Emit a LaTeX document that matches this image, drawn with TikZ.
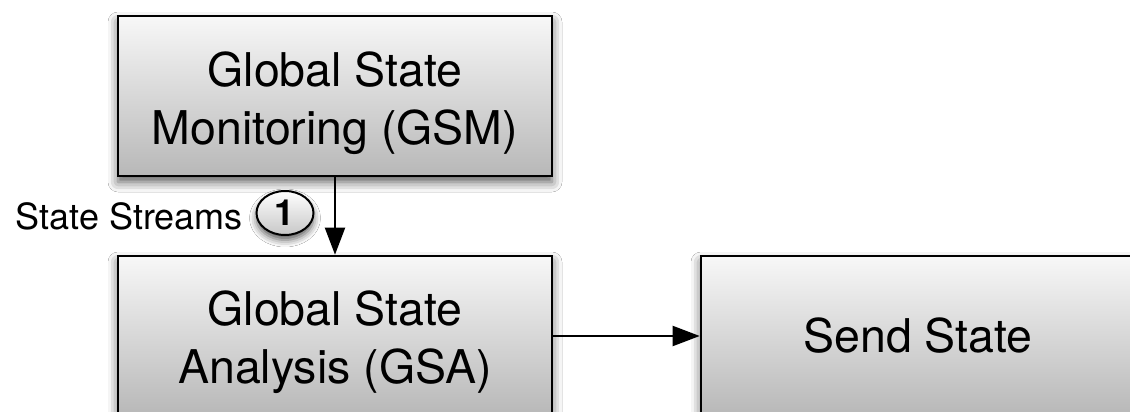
\documentclass[tikz,border=0pt]{standalone}
\usepackage{fontspec}
\setmainfont{TeX Gyre Heros}
\usetikzlibrary{arrows.meta,shadows.blur,shapes.geometric}
\tikzset{
  boxshape/.style={draw=black, line width=2.6pt, minimum width=434pt, minimum height=160pt,
    inner sep=0pt, top color=white!97!black, bottom color=black!28,
    blur shadow={shadow xshift=0pt, shadow yshift=-6pt, shadow blur radius=10pt, shadow opacity=65}},
  boxtext/.style={inner sep=0pt, align=center, font=\fontsize{46.5pt}{58pt}\selectfont},
  badge/.style={ellipse, draw=black, line width=2pt, minimum width=57pt, minimum height=44pt,
    inner sep=0pt, top color=white, bottom color=black!22,
    font=\fontsize{36pt}{40pt}\selectfont\bfseries,
    blur shadow={shadow xshift=0pt, shadow yshift=-5pt, shadow blur radius=7pt, shadow opacity=65}},
  smalltext/.style={inner sep=0pt, font=\fontsize{36pt}{42pt}\selectfont},
  flow/.style={line width=2pt, -{Triangle[length=27pt,width=20pt]}}
}
\begin{document}
\begin{tikzpicture}[x=1pt,y=-1pt]
\useasboundingbox (0,0) rectangle (1130,412);
\clip (0,0) rectangle (1130,412);
\fill[white] (0,0) rectangle (1130,412);
\node[boxshape] (gsm) at (335,96) {};
\node[boxtext] (gsmt) at ([yshift=-7pt]gsm.center) {Global State\\Monitoring (GSM)};
\node[boxshape] (gsa) at (335,336) {};
\node[boxtext] (gsat) at ([yshift=-6pt]gsa.center) {Global State\\Analysis (GSA)};
\node[boxshape, boxtext] (send) at (918,336) {Send State};
\draw[flow] (gsm.south) -- (gsa.north);
\draw[flow] (gsa.east) -- (send.west);
\node[badge] (one) at (285,213) {1};
\node[smalltext, anchor=base east] (lbl) at (243,229) {State Streams};
\end{tikzpicture}
\end{document}
